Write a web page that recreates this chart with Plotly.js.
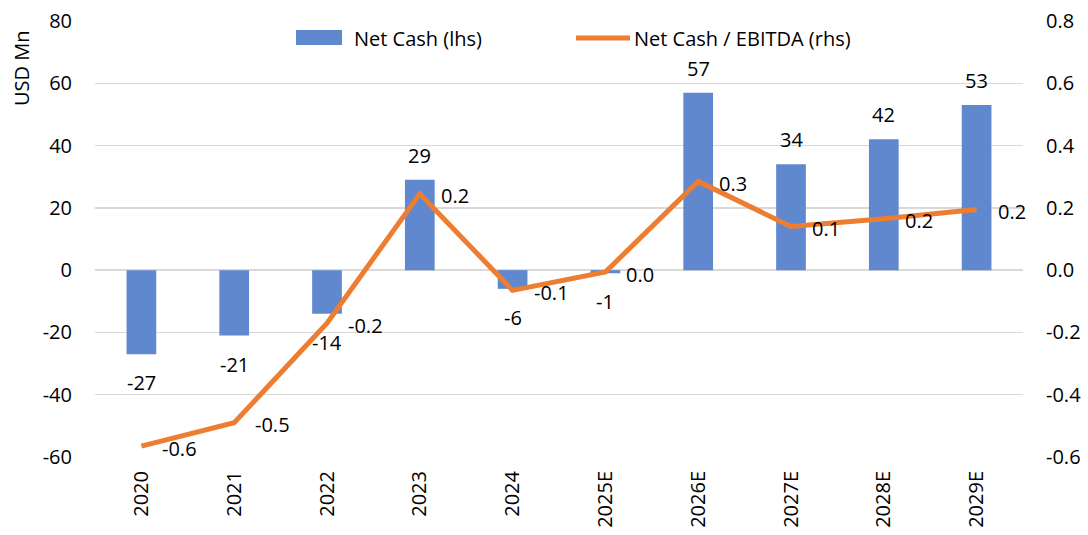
<!DOCTYPE html>
<html><head><meta charset="utf-8">
<script src="https://cdn.plot.ly/plotly-3.0.1.min.js"></script>
<style>html,body{margin:0;padding:0;background:#fff}#chart{width:1088px;height:535px}</style>
</head><body><div id="chart"></div>
<script>
const categories = ['2020','2021','2022','2023','2024','2025E','2026E','2027E','2028E','2029E'];
const netCash = [-27, -21, -14, 29, -6, -1, 57, 34, 42, 53];
const netCashEbitda = [-0.565, -0.49, -0.17, 0.245, -0.065, -0.006, 0.285, 0.14, 0.165, 0.195];
const leftTicks = [-60, -40, -20, 0, 20, 40, 60, 80];
const rightTicks = [-0.6, -0.4, -0.2, 0.0, 0.2, 0.4, 0.6, 0.8];
const seriesNames = ['Net Cash (lhs)', 'Net Cash / EBITDA (rhs)'];
const colors = ['#5F88CE', '#ED7D31'];

const FONT = 'Open Sans, sans-serif';
const FS = 20;
const W = 1088, H = 535, M = {l:95, r:65, t:21, b:78};
const PW = W - M.l - M.r, PH = H - M.t - M.b;
const px = x => (x - M.l) / PW;       // page pixel -> paper x
const py = y => (H - M.b - y) / PH;   // page pixel -> paper y
const fmt1 = v => (Math.abs(v) < 0.05) ? '0.0' : v.toFixed(1);

const traces = [
  {type:'bar', name:seriesNames[0], x:categories, y:netCash, marker:{color:colors[0]}, yaxis:'y'},
  {type:'scatter', mode:'lines', name:seriesNames[1], x:categories, y:netCashEbitda, yaxis:'y2',
   line:{color:colors[1], width:5}}
];

const annotations = [];
categories.forEach((c,i)=>{
  const v = netCash[i];
  annotations.push({x:i, y:v, xref:'x', yref:'y', text:String(v), showarrow:false,
    yanchor: v>=0 ? 'bottom':'top', yshift: v>=0 ? 9 : -13, font:{family:FONT, size:FS, color:'#000'}});
  const r = netCashEbitda[i];
  annotations.push({x:i, y:r, xref:'x', yref:'y2', text:fmt1(r), showarrow:false,
    xanchor:'left', yanchor:'middle', xshift:19, yshift:-2, font:{family:FONT, size:FS, color:'#000'}});
});
// y-axis title (placed at the top like the reference)
annotations.push({xref:'paper', yref:'paper', x:px(22), y:py(68), text:'USD Mn', textangle:-90, showarrow:false,
  xanchor:'center', yanchor:'middle', font:{family:FONT, size:FS, color:'#000'}});
// legend texts
annotations.push({xref:'paper', yref:'paper', x:px(352), y:py(38), text:seriesNames[0], showarrow:false,
  xanchor:'left', yanchor:'middle', font:{family:FONT, size:FS, color:'#000'}});
annotations.push({xref:'paper', yref:'paper', x:px(632), y:py(38), text:seriesNames[1], showarrow:false,
  xanchor:'left', yanchor:'middle', font:{family:FONT, size:FS, color:'#000'}});

const shapes = [
  {type:'rect', xref:'paper', yref:'paper', x0:px(296), x1:px(342), y0:py(45), y1:py(30), fillcolor:colors[0], line:{width:0}},
  {type:'line', xref:'paper', yref:'paper', x0:px(576), x1:px(630), y0:py(38), y1:py(38), line:{color:colors[1], width:5}}
];

const layout = {
  width:W, height:H,
  margin:M,
  paper_bgcolor:'#fff', plot_bgcolor:'#fff',
  font:{family:FONT, size:FS, color:'#000'},
  bargap:0.68,
  showlegend:false,
  xaxis:{type:'category', range:[-0.5, categories.length-0.5], tickangle:-90, showgrid:false, showline:false, ticks:'',
    tickfont:{family:FONT, size:FS}, ticklabelstandoff:9},
  yaxis:{range:[-60,80], tickvals:leftTicks, ticktext:leftTicks.map(String), showgrid:true, gridcolor:'#D9D9D9', gridwidth:1.5,
    zeroline:false, showline:false, ticks:'', tickfont:{family:FONT, size:FS}, ticklabelstandoff:22},
  yaxis2:{range:[-0.6,0.8], overlaying:'y', side:'right', tickvals:rightTicks, ticktext:rightTicks.map(v=>v.toFixed(1)),
    showgrid:false, zeroline:false, showline:false, ticks:'', tickfont:{family:FONT, size:FS}, ticklabelstandoff:22},
  annotations:annotations,
  shapes:shapes
};
Plotly.newPlot('chart', traces, layout, {displayModeBar:false, staticPlot:true});
</script></body></html>
